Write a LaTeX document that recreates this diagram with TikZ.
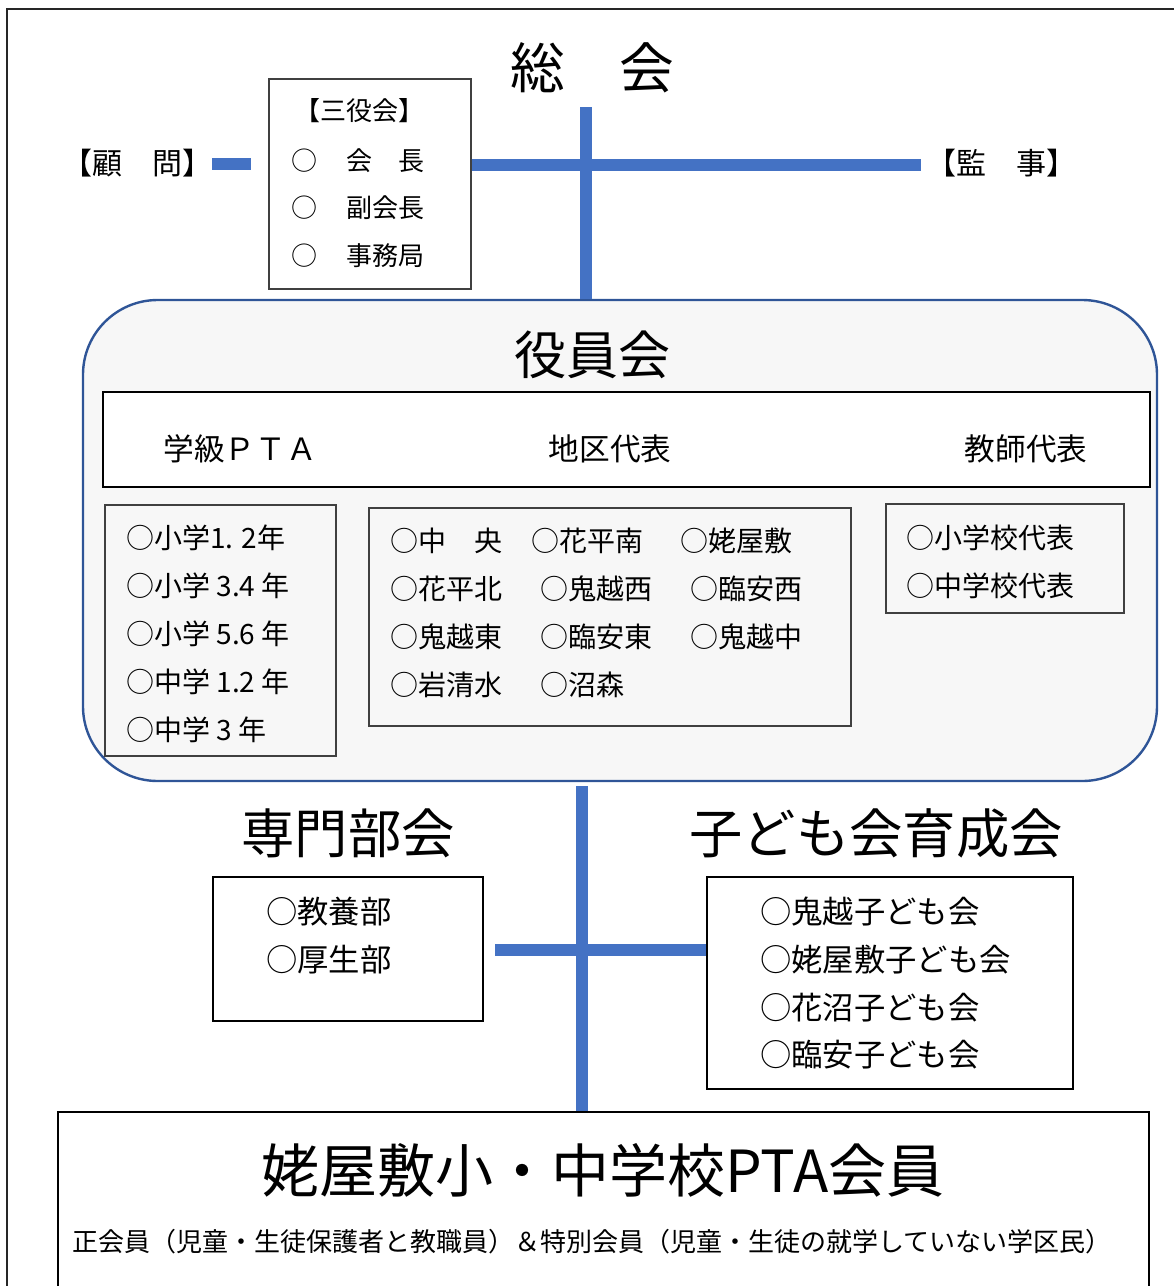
\documentclass[tikz,border=0pt]{standalone}
\usepackage{fontspec}
\setmainfont{Noto Sans CJK JP}
\definecolor{lineblue}{HTML}{4472C4}
\definecolor{frameblue}{HTML}{2F5597}
\definecolor{panel}{HTML}{F7F7F7}
\definecolor{boxgrey}{HTML}{404040}
\tikzset{
  blueline/.style={line width=8.5pt, draw=lineblue},
  boxnode/.style={draw=boxgrey, line width=0.9pt, inner sep=0pt},
  listnode/.style={draw=boxgrey, line width=0.9pt, fill=panel, inner sep=0pt},
  item/.style={anchor=west, inner sep=0pt, font=\fontsize{21}{24}\selectfont},
  lgitem/.style={anchor=west, inner sep=0pt, font=\fontsize{23.5}{26}\selectfont},
  smitem/.style={anchor=west, inner sep=0pt, font=\fontsize{19.5}{22}\selectfont},
  bigtitle/.style={inner sep=0pt, font=\fontsize{40}{44}\selectfont},
  hdr/.style={inner sep=0pt, font=\fontsize{23}{26}\selectfont},
}
\begin{document}
\begin{tikzpicture}[x=0.75pt,y=-0.75pt]
\useasboundingbox (0,0) rectangle (1174,1286);
% outer frame
\draw[line width=1.1pt, black!85] (7,1290) -- (7,9) -- (1180,9);

% 総会
\node[bigtitle, font=\fontsize{41}{44}\selectfont] (soukai) at (592,68) {総　会};
\coordinate (soukaiTop) at (586,107);

% 三役会 box
\node[boxnode, minimum width=151.5pt, minimum height=157.5pt] (sanyaku) at (370,184) {};
\node[inner sep=0pt, font=\fontsize{19.5}{22}\selectfont] (sanyakuT) at (359,111) {【三役会】};
\node[smitem] (c1) at (291,161) {○};
\node[smitem] (c2) at (291,208) {○};
\node[smitem] (c3) at (291,256) {○};
\node[smitem] (r1) at (346,161) {会　長};
\node[smitem] (r2) at (346,208) {副会長};
\node[smitem] (r3) at (346,256) {事務局};

% 顧問 / 監事
\node[inner sep=0pt, font=\fontsize{22.5}{26}\selectfont] (komon) at (137,163) {【顧　問】};
\node[inner sep=0pt, font=\fontsize{22.5}{26}\selectfont] (kanji) at (1001,163) {【監　事】};
\coordinate (komonA) at (212,164);
\coordinate (komonB) at (251,164);
\coordinate (kanjiL) at (921,165);

% 役員会 panel
\node[draw=frameblue, line width=1.8pt, fill=panel, rounded corners=56pt,
      minimum width=805.5pt, minimum height=360.75pt, inner sep=0pt] (yakuin) at (620,540.5) {};
\node[bigtitle, font=\fontsize{39}{44}\selectfont] (yakuinT) at (592,355) {役員会};

% header
\node[draw=black, line width=0.9pt, fill=white, minimum width=785.25pt, minimum height=71.25pt, inner sep=0pt] (header) at (626.5,439.5) {};
\node[hdr] (gakkyu) at (240,449) {学級ＰＴＡ};
\node[hdr] (chiku) at (610,449) {地区代表};
\node[hdr] (kyoshi) at (1026,449) {教師代表};

% left list
\node[listnode, minimum width=173.25pt, minimum height=188.25pt] (leftlist) at (220.5,630.5) {};
\node[item] (l1) at (126,538) {○小学1. 2年};
\node[item] (l2) at (126,586) {○小学 3.4 年};
\node[item] (l3) at (126,634) {○小学 5.6 年};
\node[item] (l4) at (126,682) {○中学 1.2 年};
\node[item] (l5) at (126,730) {○中学 3 年};

% middle list
\node[listnode, minimum width=361.5pt, minimum height=163.5pt] (midlist) at (610,617) {};
\node[item] (m11) at (390,541) {○中　央};
\node[item] (m12) at (531,541) {○花平南};
\node[item] (m13) at (680,541) {○姥屋敷};
\node[item] (m21) at (390,589) {○花平北};
\node[item] (m22) at (540,589) {○鬼越西};
\node[item] (m23) at (690,589) {○臨安西};
\node[item] (m31) at (390,637) {○鬼越東};
\node[item] (m32) at (540,637) {○臨安東};
\node[item] (m33) at (690,637) {○鬼越中};
\node[item] (m41) at (390,685) {○岩清水};
\node[item] (m42) at (540,685) {○沼森};

% right list
\node[listnode, minimum width=178.5pt, minimum height=81.75pt] (rightlist) at (1005,558.5) {};
\node[item] (t1) at (906,538) {○小学校代表};
\node[item] (t2) at (906,586) {○中学校代表};

% lower titles
\node[bigtitle] (senmonT) at (348,833) {専門部会};
\node[bigtitle] (kodomoT) at (876,833) {子ども会育成会};

% 専門部会 box
\node[boxnode, draw=black, minimum width=202.5pt, minimum height=108pt] (senmon) at (348,949) {};
\node[lgitem] (s1) at (266,912) {○教養部};
\node[lgitem] (s2) at (266,960) {○厚生部};

% 子ども会 box
\node[boxnode, draw=black, minimum width=274.5pt, minimum height=159pt] (kodomo) at (890,983) {};
\node[lgitem] (k1) at (760,912) {○鬼越子ども会};
\node[lgitem] (k2) at (760,960) {○姥屋敷子ども会};
\node[lgitem] (k3) at (760,1008) {○花沼子ども会};
\node[lgitem] (k4) at (760,1055) {○臨安子ども会};

% member box
\node[boxnode, draw=black, minimum width=818.25pt, minimum height=141pt] (member) at (603.5,1206) {};
\node[inner sep=0pt, font=\fontsize{43.5}{48}\selectfont] (memberT) at (603,1170) {姥屋敷小・中学校PTA会員};
\node[inner sep=0pt, font=\fontsize{19.5}{22}\selectfont] (memberS) at (592,1242) {正会員（児童・生徒保護者と教職員）＆特別会員（児童・生徒の就学していない学区民）};

% blue connectors
\draw[blueline] (soukaiTop) -- (soukaiTop |- yakuin.north);
\draw[blueline] (sanyaku.east |- kanjiL) -- (kanjiL);
\draw[blueline] (komonA) -- (komonB);
\coordinate (lowTop) at (582,786);
\draw[blueline] (lowTop) -- (lowTop |- member.north);
\coordinate (senmonR) at (495,950);
\draw[blueline] (senmonR) -- (senmonR -| kodomo.west);
\end{tikzpicture}
\end{document}
